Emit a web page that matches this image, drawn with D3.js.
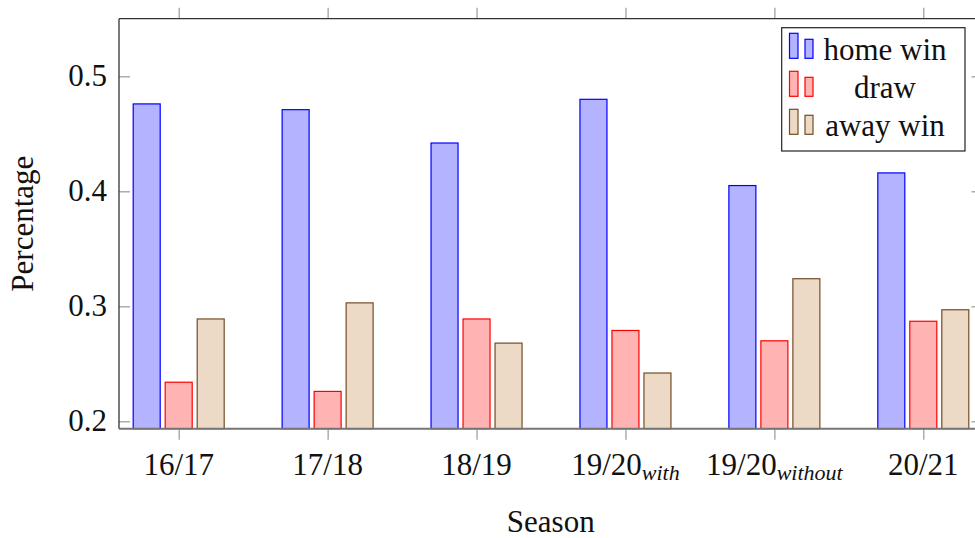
<!DOCTYPE html>
<html>
<head>
<meta charset="utf-8">
<script src="https://cdn.jsdelivr.net/npm/d3@7"></script>
<style>
  html, body { margin: 0; padding: 0; background: #fff; }
  svg { display: block; }
</style>
</head>
<body>
<svg id="chart" width="975" height="538"></svg>
<script>
// Seasons (main label + optional subscript)
const seasons = ["16/17", "17/18", "18/19", "19/20with", "19/20without", "20/21"];
const seasonMain = ["16/17", "17/18", "18/19", "19/20", "19/20", "20/21"];
const seasonSub = ["", "", "", "with", "without", ""];

// Share of match outcomes per season
const homeWin = [0.476, 0.471, 0.442, 0.480, 0.405, 0.416];
const draw    = [0.234, 0.226, 0.289, 0.279, 0.270, 0.287];
const awayWin = [0.289, 0.303, 0.268, 0.242, 0.324, 0.297];

const seriesNames = ["home win", "draw", "away win"];
const seriesValues = [homeWin, draw, awayWin];
const seriesFill = ["#b3b3ff", "#ffb3b3", "#ecd9c6"];
const seriesStroke = ["#0000ff", "#ff0000", "#734d26"];

const yTicks = [0.2, 0.3, 0.4, 0.5];

const FONT = "Liberation Serif";
const svg = d3.select("#chart");

const plotLeft = 119, plotRight = 982.5, plotTop = 18.7, plotBottom = 428.7;

const x = d3.scalePoint().domain(seasons).range([178.7, 923.3]);
const y = d3.scaleLinear().domain([0.19357, 0.5501]).range([plotBottom, plotTop]);

const barW = 27, barGap = 32;

// Bars
const plot = svg.append("g");
seriesValues.forEach((vals, s) => {
  plot.append("g")
    .selectAll("rect")
    .data(vals)
    .join("rect")
    .attr("x", (d, i) => x(seasons[i]) + (s - 1) * barGap - barW / 2)
    .attr("width", barW)
    .attr("y", d => y(d))
    .attr("height", d => plotBottom - y(d))
    .attr("fill", seriesFill[s])
    .attr("stroke", seriesStroke[s])
    .attr("stroke-width", 1.2);
});

// Y axis ticks (inside, both sides)
const yAxisL = d3.axisLeft(y).tickValues(yTicks).tickSize(-11).tickFormat("");
const yAxisR = d3.axisRight(y).tickValues(yTicks).tickSize(-11).tickFormat("");
svg.append("g").attr("transform", `translate(${plotLeft},0)`).call(yAxisL)
  .call(g => g.select(".domain").remove())
  .call(g => g.selectAll("line").attr("stroke", "#999").attr("stroke-width", 1.2));
svg.append("g").attr("transform", `translate(${plotRight},0)`).call(yAxisR)
  .call(g => g.select(".domain").remove())
  .call(g => g.selectAll("line").attr("stroke", "#999").attr("stroke-width", 1.2));

// X ticks (outside, top and bottom)
const xAxisB = d3.axisBottom(x).tickSize(11).tickFormat("");
const xAxisT = d3.axisTop(x).tickSize(11).tickFormat("");
svg.append("g").attr("transform", `translate(0,${plotBottom})`).call(xAxisB)
  .call(g => g.select(".domain").remove())
  .call(g => g.selectAll("line").attr("stroke", "#999").attr("stroke-width", 1.2));
svg.append("g").attr("transform", `translate(0,${plotTop})`).call(xAxisT)
  .call(g => g.select(".domain").remove())
  .call(g => g.selectAll("line").attr("stroke", "#999").attr("stroke-width", 1.2));

// Frame
svg.append("line").attr("x1", plotLeft).attr("x2", plotLeft).attr("y1", plotTop).attr("y2", plotBottom)
  .attr("stroke", "#333").attr("stroke-width", 1.3);
svg.append("line").attr("x1", plotLeft).attr("x2", plotRight).attr("y1", plotTop).attr("y2", plotTop)
  .attr("stroke", "#333").attr("stroke-width", 1.3);
svg.append("line").attr("x1", plotRight).attr("x2", plotRight).attr("y1", plotTop).attr("y2", plotBottom)
  .attr("stroke", "#333").attr("stroke-width", 1.3);
svg.append("line").attr("x1", plotLeft).attr("x2", plotRight).attr("y1", plotBottom).attr("y2", plotBottom)
  .attr("stroke", "#757575").attr("stroke-width", 2);

// Y tick labels
svg.append("g").selectAll("text")
  .data(yTicks)
  .join("text")
  .attr("font-family", FONT).attr("fill", "#111")
  .attr("x", 107)
  .attr("y", d => y(d) + 10)
  .attr("text-anchor", "end")
  .attr("font-size", 31)
  .text(d => d3.format(".1f")(d));

// X tick labels with subscripts
const xl = svg.append("g").selectAll("text")
  .data(seasons)
  .join("text")
  .attr("font-family", FONT).attr("fill", "#111")
  .attr("x", d => x(d))
  .attr("y", 475)
  .attr("text-anchor", "middle")
  .attr("font-size", 31);
xl.append("tspan").text((d, i) => seasonMain[i]);
xl.append("tspan")
  .attr("font-size", 22)
  .attr("font-style", "italic")
  .attr("dy", 5)
  .text((d, i) => seasonSub[i]);

// Axis titles
svg.append("text")
  .attr("font-family", FONT).attr("fill", "#111")
  .attr("x", (plotLeft + plotRight) / 2)
  .attr("y", 532)
  .attr("text-anchor", "middle")
  .attr("font-size", 31)
  .text("Season");
svg.append("text")
  .attr("font-family", FONT).attr("fill", "#111")
  .attr("transform", `translate(33,${(plotTop + plotBottom) / 2}) rotate(-90)`)
  .attr("text-anchor", "middle")
  .attr("font-size", 31)
  .text("Percentage");

// Legend
const lg = svg.append("g");
lg.append("rect")
  .attr("x", 781.7).attr("y", 27.7)
  .attr("width", 183.3).attr("height", 123.3)
  .attr("fill", "#fff").attr("stroke", "#222").attr("stroke-width", 1.2);
const rows = lg.selectAll("g.row")
  .data(seriesNames)
  .join("g")
  .attr("class", "row")
  .attr("transform", (d, i) => `translate(0,${58.3 + i * 38})`);
rows.append("rect")
  .attr("x", 789.5).attr("y", -25).attr("width", 8.5).attr("height", 25)
  .attr("fill", (d, i) => seriesFill[i]).attr("stroke", (d, i) => seriesStroke[i]).attr("stroke-width", 1.2);
rows.append("rect")
  .attr("x", 805).attr("y", -19).attr("width", 8).attr("height", 19)
  .attr("fill", (d, i) => seriesFill[i]).attr("stroke", (d, i) => seriesStroke[i]).attr("stroke-width", 1.2);
rows.append("text")
  .attr("font-family", FONT).attr("fill", "#111")
  .attr("x", 885).attr("y", 1.5)
  .attr("text-anchor", "middle")
  .attr("font-size", 31)
  .text(d => d);
</script>
</body>
</html>
